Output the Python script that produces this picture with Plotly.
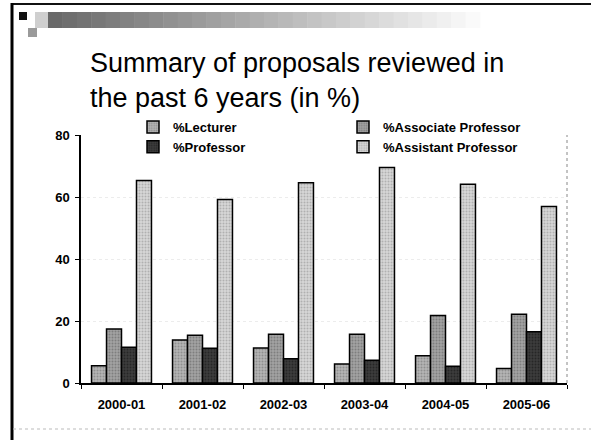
import plotly.graph_objects as go

years = ["2000-01", "2001-02", "2002-03", "2003-04", "2004-05", "2005-06"]
lecturer = [5.6, 13.9, 11.3, 6.1, 8.8, 4.7]
associate = [17.4, 15.4, 15.7, 15.7, 21.8, 22.2]
professor = [11.5, 11.2, 7.8, 7.3, 5.4, 16.5]
assistant = [65.3, 59.2, 64.6, 69.5, 64.1, 56.9]
y_ticks = [0, 20, 40, 60, 80]

series = [
    ("%Lecturer", lecturer, "#b4b4b4", "#6a6a6a"),
    ("%Associate Professor", associate, "#a2a2a2", "#5a5a5a"),
    ("%Professor", professor, "#3c3c3c", "#101010"),
    ("%Assistant Professor", assistant, "#d6d6d6", "#8a8a8a"),
]

fig = go.Figure()
for name, vals, col, fg in series:
    fig.add_trace(go.Bar(
        x=years, y=vals, name=name,
        marker=dict(color=col, line=dict(color="#000000", width=1.5),
                    pattern=dict(shape=".", fgcolor=fg, bgcolor=col, size=3, solidity=0.35)),
    ))

W, H = 591, 440
L, R, T, B = 81, 24, 135, 57
ph = H - T - B
pw = W - L - R

def py(pix):
    return 1 + (T - pix) / ph

def px(pix):
    return (pix - L) / pw

shapes = []
# slide frame
shapes.append(dict(type="line", xref="paper", yref="paper", x0=px(11), x1=px(W),
                   y0=py(4), y1=py(4), line=dict(color="#111111", width=2)))
shapes.append(dict(type="line", xref="paper", yref="paper", x0=px(12), x1=px(12),
                   y0=py(3), y1=py(440), line=dict(color="#000000", width=3)))
shapes.append(dict(type="line", xref="paper", yref="paper", x0=px(13), x1=px(W),
                   y0=py(429), y1=py(429), line=dict(color="#bbbbbb", width=1, dash="dot")))
# right plot border (dotted)
shapes.append(dict(type="line", xref="paper", yref="paper", x0=1, x1=1, y0=0, y1=1,
                   line=dict(color="#888888", width=1, dash="dot")))
# header banner (decorative gradient)
shapes.append(dict(type="rect", xref="paper", yref="paper", x0=px(19), x1=px(27), y0=py(20), y1=py(12),
                   fillcolor="#111111", line=dict(width=0)))
shapes.append(dict(type="rect", xref="paper", yref="paper", x0=px(28), x1=px(37), y0=py(37), y1=py(28),
                   fillcolor="#9a9a9a", line=dict(width=0)))
shapes.append(dict(type="rect", xref="paper", yref="paper", x0=px(35), x1=px(48), y0=py(28), y1=py(12),
                   fillcolor="#cfcfcf", line=dict(width=0)))
steps = 30
x_start, x_end = 48, 480
for i in range(steps):
    t = i / (steps - 1)
    g = int(105 + t * 145)
    shapes.append(dict(type="rect", xref="paper", yref="paper",
                       x0=px(x_start + (x_end - x_start) * i / steps),
                       x1=px(x_start + (x_end - x_start) * (i + 1) / steps + 0.5),
                       y0=py(28), y1=py(12),
                       fillcolor=f"rgb({g},{g},{g})", line=dict(width=0)))

fig.update_layout(
    width=W, height=H,
    margin=dict(l=L, r=R, t=T, b=B),
    paper_bgcolor="white", plot_bgcolor="white",
    barmode="group", bargap=0.26, bargroupgap=0,
    font=dict(family="Liberation Sans, Arial, sans-serif", color="#000000"),
    showlegend=True,
    legend=dict(orientation="h", x=px(133), xanchor="left", y=py(112), yanchor="top",
                entrywidth=165, entrywidthmode="pixels", traceorder="normal",
                font=dict(size=13, family="Liberation Sans, Arial, sans-serif", weight="bold"),
                itemwidth=30, bgcolor="rgba(0,0,0,0)", tracegroupgap=0),
    shapes=shapes,
    annotations=[dict(
        text="Summary of proposals reviewed in<br>the past 6 years (in %)",
        xref="paper", yref="paper", x=px(88), y=py(46), xanchor="left", yanchor="top",
        align="left", showarrow=False,
        font=dict(size=27, family="Liberation Sans, Arial, sans-serif", color="#000000"),
    )],
    xaxis=dict(type="category", showline=True, linecolor="#000000", linewidth=1.5, ticks="outside", ticklen=4,
               tickcolor="#000000", tickson="boundaries", showgrid=False,
               tickfont=dict(size=13, weight="bold"), ticklabelstandoff=9),
    yaxis=dict(range=[0, 80], tickvals=y_ticks, showline=True, linecolor="#000000", linewidth=1.5,
               ticks="outside", ticklen=4, tickcolor="#000000", showgrid=True,
               gridcolor="#ececec", griddash="dot", zeroline=False,
               tickfont=dict(size=13, weight="bold"), ticklabelstandoff=3),
)

fig.write_html("out.html", config={"displayModeBar": False},
               post_script="document.body.style.margin='0';")
